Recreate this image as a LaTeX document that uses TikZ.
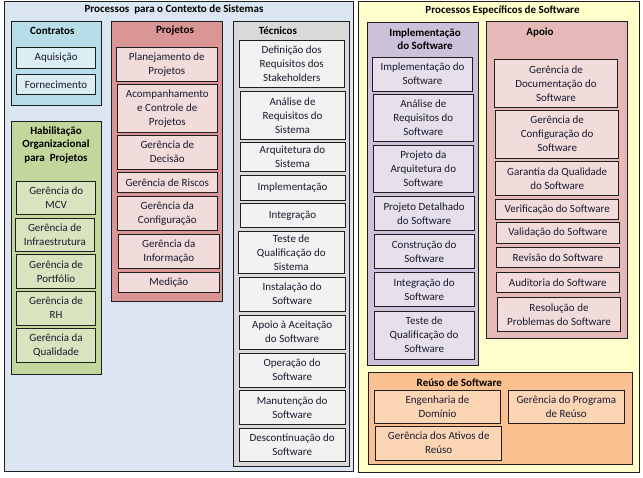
\documentclass[tikz,border=0pt]{standalone}
\usepackage{fontspec}
\setmainfont{Carlito}
\definecolor{linec}{RGB}{30,30,30}
\definecolor{txt}{RGB}{25,25,45}
\definecolor{lbg}{HTML}{DCE6F2}
\definecolor{rbg}{HTML}{FFFFCC}
\definecolor{cC}{HTML}{B7DEE8}
\definecolor{cI}{HTML}{DBEEF4}
\definecolor{hC}{HTML}{C3D69B}
\definecolor{hI}{HTML}{D7E4BD}
\definecolor{pC}{HTML}{D99694}
\definecolor{pI}{HTML}{F2DCDB}
\definecolor{tC}{HTML}{D9D9D9}
\definecolor{tI}{HTML}{F2F2F2}
\definecolor{iC}{HTML}{CCC1DA}
\definecolor{iI}{HTML}{E5E0EC}
\definecolor{aC}{HTML}{E6B9B8}
\definecolor{aI}{HTML}{F2DCDB}
\definecolor{uC}{HTML}{FAC090}
\definecolor{uI}{HTML}{FCD5B5}
\newcommand\bx[7]{\node[#2, minimum width={(#5)-(#3)}, minimum height={(#6)-(#4)}] (#1) at ({((#3)+(#5))/2},{((#4)+(#6))/2}) {#7};}
\tikzset{
  boxbase/.style={draw=linec, line width=0.8pt, inner sep=0pt, align=center, text=txt, font=\fontsize{11}{14}\selectfont},
  outerbox/.style={boxbase},
  grpbox/.style={boxbase},
  itbox/.style={boxbase},
  ttl/.style={inner sep=0pt, align=center, text=black, font=\bfseries\fontsize{11}{13.3}\selectfont}
}
\begin{document}
\begin{tikzpicture}[x=1pt,y=-1pt]
\useasboundingbox (0,0) rectangle (643,477);
% outer containers
\bx{L}{outerbox, fill=lbg}{4}{1}{353}{471}{}
\bx{R}{outerbox, fill=rbg}{358}{1}{639}{472}{}
\node[ttl] (Lt) at (174,10) {Processos\ \ para o Contexto de Sistemas};
\node[ttl] (Rt) at (502.5,10) {Processos Específicos de Software};
% Contratos
\bx{C}{grpbox, fill=cC}{11.7}{21.7}{101.7}{105.7}{}
\node[ttl] (Ct) at (52.3,30.7) {Contratos};
\bx{c1}{itbox, fill=cI}{16.7}{47.3}{95.7}{68.3}{Aquisição}
\bx{c2}{itbox, fill=cI}{16.3}{74.3}{95.7}{94.3}{Fornecimento}
% Habilitacao
\bx{H}{grpbox, fill=hC}{11.7}{121.7}{101.7}{374}{}
\node[ttl] (Ht) at (56,145) {Habilitação\\Organizacional\\para\ \ Projetos};
\bx{h1}{itbox, fill=hI}{16.7}{181.7}{95.7}{214.3}{Gerência do\\MCV}
\bx{h2}{itbox, fill=hI}{15.3}{218.3}{94.3}{251}{Gerência de\\Infraestrutura}
\bx{h3}{itbox, fill=hI}{16.3}{254.3}{95.7}{288.3}{Gerência de\\Portfólio}
\bx{h4}{itbox, fill=hI}{16.3}{291}{95.7}{325}{Gerência de\\RH}
\bx{h5}{itbox, fill=hI}{16.3}{328.3}{95.7}{362.3}{Gerência da\\Qualidade}
% Projetos
\bx{P}{grpbox, fill=pC}{111.7}{21.7}{222.7}{301}{}
\node[ttl] (Pt) at (175,30.7) {Projetos};
\bx{p1}{itbox, fill=pI}{116.3}{47.3}{217.3}{81}{Planejamento de\\Projetos}
\bx{p2}{itbox, fill=pI}{117.3}{84.3}{217.3}{132.3}{Acompanhamento\\e Controle de\\Projetos}
\bx{p3}{itbox, fill=pI}{117.3}{135.3}{217.3}{169}{Gerência de\\Decisão}
\bx{p4}{itbox, fill=pI}{117.3}{172.3}{217.3}{192.3}{Gerência de Riscos}
\bx{p5}{itbox, fill=pI}{117.3}{196.7}{217.3}{230.3}{Gerência da\\Configuração}
\bx{p6}{itbox, fill=pI}{118.3}{234.3}{219.3}{268.3}{Gerência da\\Informação}
\bx{p7}{itbox, fill=pI}{118.3}{272.3}{219.3}{292.3}{Medição}
% Tecnicos
\bx{T}{grpbox, fill=tC}{233}{21.7}{349.3}{466.7}{}
\node[ttl] (Tt) at (278,30.7) {Técnicos};
\bx{t1}{itbox, fill=tI}{239}{40.7}{344.3}{87.3}{Definição dos\\Requisitos dos\\Stakeholders}
\bx{t2}{itbox, fill=tI}{240}{91.3}{345}{139.3}{Análise de\\Requisitos do\\Sistema}
\bx{t3}{itbox, fill=tI}{240}{142.7}{345}{171}{Arquitetura do\\Sistema}
\bx{t4}{itbox, fill=tI}{240}{175}{345}{200}{Implementação}
\bx{t5}{itbox, fill=tI}{240}{203.3}{345}{227.3}{Integração}
\bx{t6}{itbox, fill=tI}{238.3}{231.7}{344.3}{273.3}{Teste de\\Qualificação do\\Sistema}
\bx{t7}{itbox, fill=tI}{239.3}{277.3}{345}{311}{Instalação do\\Software}
\bx{t8}{itbox, fill=tI}{239.3}{315}{345}{349}{Apoio à Aceitação\\do Software}
\bx{t9}{itbox, fill=tI}{239.3}{353.3}{345}{387}{Operação do\\Software}
\bx{t10}{itbox, fill=tI}{239.3}{390.3}{345}{424.3}{Manutenção do\\Software}
\bx{t11}{itbox, fill=tI}{239.3}{428.3}{345}{461.7}{Descontinuação do\\Software}
% Implementacao do Software
\bx{I}{grpbox, fill=iC}{367.3}{22.3}{478.3}{365.7}{}
\node[ttl] (It) at (425,39.5) {Implementação\\do Software};
\bx{i1}{itbox, fill=iI}{372.7}{57.3}{472.3}{91}{Implementação do\\Software}
\bx{i2}{itbox, fill=iI}{373.3}{94.3}{473.3}{141.7}{Análise de\\Requisitos do\\Software}
\bx{i3}{itbox, fill=iI}{373.3}{145.3}{473.3}{192.3}{Projeto da\\Arquitetura do\\Software}
\bx{i4}{itbox, fill=iI}{374}{196.7}{474.3}{230}{Projeto Detalhado\\do Software}
\bx{i5}{itbox, fill=iI}{374}{234.3}{474.3}{268.3}{Construção do\\Software}
\bx{i6}{itbox, fill=iI}{374}{272.3}{474.3}{306.7}{Integração do\\Software}
\bx{i7}{itbox, fill=iI}{374}{311}{474.3}{359.3}{Teste de\\Qualificação do\\Software}
% Apoio
\bx{A}{grpbox, fill=aC}{486.7}{21.7}{627.3}{338.3}{}
\node[ttl] (At) at (540,32.3) {Apoio};
\bx{a1}{itbox, fill=aI}{494.3}{59.3}{617.7}{107.3}{Gerência de\\Documentação do\\Software}
\bx{a2}{itbox, fill=aI}{495.7}{110}{618.7}{158.3}{Gerência de\\Configuração do\\Software}
\bx{a3}{itbox, fill=aI}{495.7}{161.7}{618.7}{195}{Garantia da Qualidade\\do Software}
\bx{a4}{itbox, fill=aI}{495.7}{199.3}{618.7}{219.3}{Verificação do Software}
\bx{a5}{itbox, fill=aI}{496.3}{222.3}{619.3}{243.3}{Validação do Software}
\bx{a6}{itbox, fill=aI}{496.3}{247.7}{619.3}{267.7}{Revisão do Software}
\bx{a7}{itbox, fill=aI}{496.3}{272.3}{619.3}{292.7}{Auditoria do Software}
\bx{a8}{itbox, fill=aI}{497.7}{297.3}{620.3}{331.7}{Resolução de\\Problemas do Software}
% Reuso
\bx{U}{grpbox, fill=uC}{368.3}{372.3}{632.7}{464.3}{}
\node[ttl] (Ut) at (459.3,382.7) {Reúso de Software};
\bx{u1}{itbox, fill=uI}{374.3}{390.7}{500.7}{423.3}{Engenharia de\\Domínio}
\bx{u2}{itbox, fill=uI}{508.3}{390.7}{624.3}{423.3}{Gerência do Programa\\de Reúso}
\bx{u3}{itbox, fill=uI}{375.7}{426}{501.7}{460}{Gerência dos Ativos de\\Reúso}
\end{tikzpicture}
\end{document}
